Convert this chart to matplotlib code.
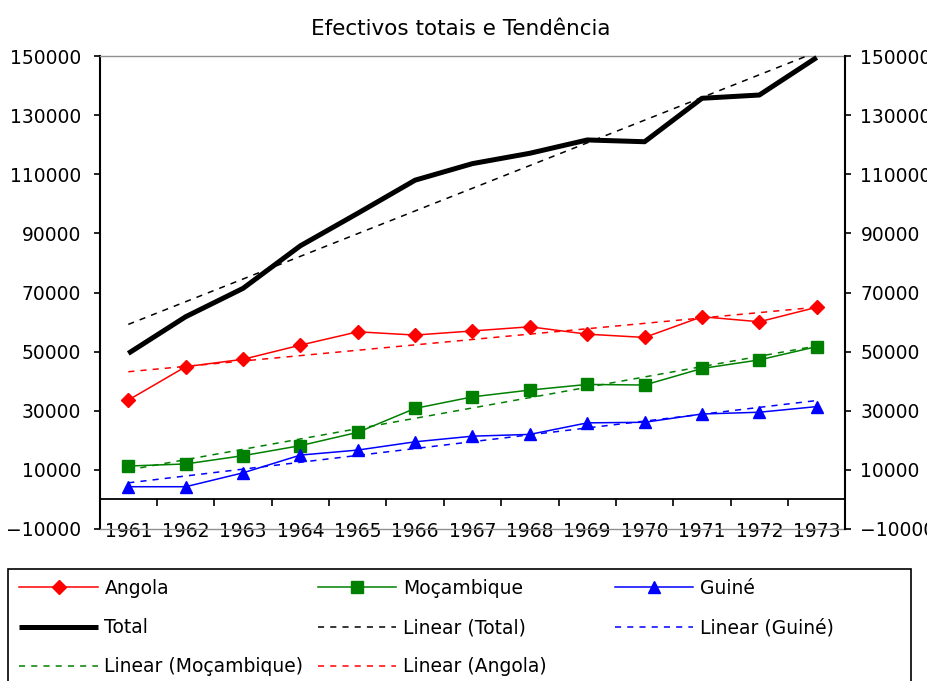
import numpy as np
import matplotlib
matplotlib.use("Agg")
import matplotlib.pyplot as plt
from matplotlib.patches import Rectangle

# data
years = ['1961', '1962', '1963', '1964', '1965', '1966', '1967',
         '1968', '1969', '1970', '1971', '1972', '1973']
angola = [33600, 44900, 47400, 52200, 56700, 55600, 57000,
          58400, 55900, 54800, 61800, 60100, 65000]
mocambique = [11300, 12000, 14800, 18200, 22700, 30800, 34700,
              37000, 38900, 38700, 44300, 47200, 51700]
guine = [4300, 4300, 9000, 15000, 16700, 19500, 21400,
         22000, 25900, 26100, 28900, 29500, 31400]
total = [49400, 61800, 71400, 85800, 96800, 108000, 113600,
         117100, 121600, 121000, 135700, 136800, 149500]
y_ticks = list(range(-10000, 150001, 20000))

FS = 13.5
W, H = 928, 681


def trend(vals):
    x = np.arange(len(vals))
    coef = np.polyfit(x, vals, 1)
    return np.polyval(coef, x)


def main():
    fig = plt.figure(figsize=(W / 100, H / 100), dpi=100)
    ax = fig.add_axes([99.6 / W, 1 - 529 / H, (845.4 - 99.6) / W, (529 - 56) / H])
    x = np.arange(len(years))

    ax.set_xlim(-0.5, len(years) - 0.5)
    ax.set_ylim(-10000, 150000)

    # series
    l_ang, = ax.plot(x, angola, color='#FF0000', lw=1.1, marker='D', ms=7.4,
                     label='Angola', clip_on=False, zorder=3)
    l_moc, = ax.plot(x, mocambique, color='#008000', lw=1.1, marker='s', ms=8,
                     label='Moçambique', clip_on=False, zorder=3)
    l_gui, = ax.plot(x, guine, color='#0000FF', lw=1.1, marker='^', ms=8.5,
                     label='Guiné', clip_on=False, zorder=3)
    l_tot, = ax.plot(x, total, color='black', lw=3.6, label='Total',
                     clip_on=False, zorder=3, solid_capstyle='butt')

    # linear trend lines
    l_ttot, = ax.plot(x, trend(total), color='black', lw=1.1, dashes=(4, 4),
                      label='Linear (Total)', zorder=4)
    l_tgui, = ax.plot(x, trend(guine), color='#0000FF', lw=1.1, dashes=(4, 4),
                      label='Linear (Guiné)', zorder=4)
    l_tmoc, = ax.plot(x, trend(mocambique), color='#008000', lw=1.1, dashes=(4, 4),
                      label='Linear (Moçambique)', zorder=4)
    l_tang, = ax.plot(x, trend(angola), color='#FF0000', lw=1.1, dashes=(4, 4),
                      label='Linear (Angola)', zorder=4)

    # spines
    ax.spines['bottom'].set_position(('data', 0))
    ax.spines['bottom'].set_linewidth(1.3)
    ax.spines['left'].set_linewidth(1.5)
    ax.spines['top'].set_color('#909090')
    ax.spines['top'].set_linewidth(1.0)
    ax.spines['right'].set_visible(False)
    ax.axhline(-10000, color='#909090', lw=1.0, clip_on=False, zorder=5)

    # x axis: labels under the plot area, ticks between categories
    ax.set_xticks(x)
    ax.set_xticklabels(years)
    ax.set_xticks(np.arange(-0.5, len(years), 1), minor=True)
    ax.tick_params(axis='x', which='major', length=0, pad=16.3, labelsize=FS)
    ax.tick_params(axis='x', which='minor', length=4.8, width=1.2, direction='out')

    ax.set_yticks(y_ticks)
    ax.tick_params(axis='y', length=4.3, width=1.2, pad=9, labelsize=FS)

    ax2 = ax.twinx()
    ax2.set_ylim(-10000, 150000)
    ax2.set_yticks(y_ticks)
    ax2.tick_params(axis='y', length=4.3, width=1.2, pad=6.5, labelsize=FS)
    for s in ['top', 'bottom', 'left']:
        ax2.spines[s].set_visible(False)
    ax2.spines['right'].set_linewidth(1.5)

    fig.text(461 / W, 1 - 29 / H, 'Efectivos totais e Tendência',
             ha='center', va='center', fontsize=15.5)

    # legend laid out as three columns inside one box
    cols = [([l_ang, l_tot, l_tmoc], 19.5),
            ([l_moc, l_ttot, l_tang], 318),
            ([l_gui, l_tgui], 615)]
    for hs, px in cols:
        fig.legend(handles=hs, loc='upper left',
                   bbox_to_anchor=(px / W, 1 - 579 / H),
                   bbox_transform=fig.transFigure, frameon=False,
                   borderpad=0, borderaxespad=0, handlelength=4.16,
                   handletextpad=0.37, labelspacing=1.07, fontsize=FS)
    fig.add_artist(Rectangle((8 / W, -0.05), (911 - 8) / W, 0.05 + 1 - 569 / H,
                             transform=fig.transFigure, fill=False,
                             edgecolor='black', lw=1.2))

    fig.savefig('out.png', dpi=100)


if __name__ == '__main__':
    main()
